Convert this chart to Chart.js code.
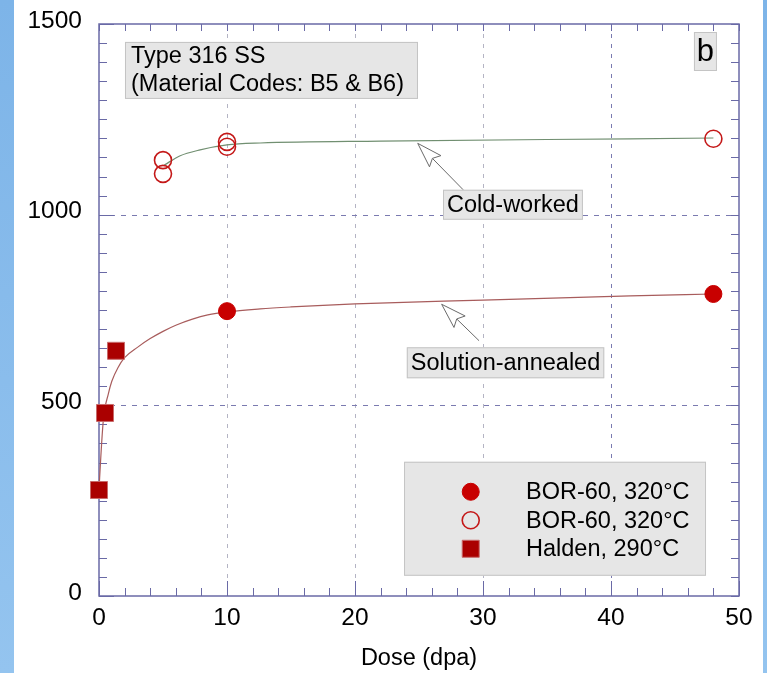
<!DOCTYPE html>
<html><head><meta charset="utf-8">
<script src="https://cdn.jsdelivr.net/npm/chart.js@4.4.0/dist/chart.umd.min.js"></script>
<style>html,body{margin:0;padding:0;background:#fff;overflow:hidden}#wrap{width:767px;height:673px;position:relative}</style>
</head><body><div id="wrap"><canvas id="c" width="767" height="673"></canvas></div>
<script>
// ---- data ----
const xTicks = [0, 10, 20, 30, 40, 50];
const yTicks = [0, 500, 1000, 1500];
const saCircleX = [10, 48];
const saCircleY = [747, 792];
const cwCircleX = [5, 5, 10, 10, 48];
const cwCircleY = [1143, 1107, 1191, 1178, 1199];
const haldenX = [0, 0.47, 1.33];
const haldenY = [278, 480, 643];
const saCurveX = [0, 0.05, 0.34, 0.73, 1.0, 1.5, 2.0, 3.0, 4.0, 5.0, 6.0, 7.3, 8.5, 10, 12.6, 15, 20, 30, 41.5, 48];
const saCurveY = [275, 310, 462, 530, 563, 600, 625, 652, 675, 694, 710, 726, 737, 745, 753, 758, 766, 776, 787, 792];
const cwCurveX = [5.1, 6.3, 7.9, 10, 12.6, 22, 41.5, 48];
const cwCurveY = [1130, 1154, 1170, 1183, 1188, 1193, 1199, 1201];
const legendLabels = ['BOR-60, 320°C', 'BOR-60, 320°C', 'Halden, 290°C'];
const titleLines = ['Type 316 SS', '(Material Codes: B5 & B6)'];
const panelLetter = 'b';
const curveLabels = ['Cold-worked', 'Solution-annealed'];
const xTitle = 'Dose (dpa)';

const pts = (xs, ys) => xs.map((x, i) => ({x, y: ys[i]}));
const FONT = '"Liberation Sans", Arial, sans-serif';
const FS = 23.5;
const TFS = 24.5;
const AX = '#6a6aa6';

const decor = {
  id: 'decor',
  beforeDraw(chart) {
    const c = chart.ctx;
    c.save();
    c.fillStyle = '#ffffff';
    c.fillRect(0, 0, chart.width, chart.height);
    const g = c.createLinearGradient(0, 0, 0, chart.height);
    g.addColorStop(0, '#7db4e8'); g.addColorStop(1, '#94c4ef');
    c.fillStyle = g;
    c.fillRect(0, 0, 14, chart.height);
    c.fillRect(763, 0, 4, chart.height);
    c.restore();
  },
  beforeDatasetsDraw(chart) {
    const c = chart.ctx, a = chart.chartArea, xs = chart.scales.x, ys = chart.scales.y;
    c.save();
    c.lineWidth = 1;
    [10, 20, 30, 40].forEach(v => {
      const px = Math.round(xs.getPixelForValue(v)) + 0.5;
      c.strokeStyle = v === 40 ? '#7a7ab0' : '#b4b4c4';
      c.setLineDash([4, 6]);
      c.beginPath(); c.moveTo(px, a.top); c.lineTo(px, a.bottom); c.stroke();
    });
    [500, 1000].forEach(v => {
      const py = Math.round(ys.getPixelForValue(v)) + 0.5;
      c.strokeStyle = '#7a7ab0';
      c.setLineDash([5, 6]);
      c.beginPath(); c.moveTo(a.left, py); c.lineTo(a.right, py); c.stroke();
    });
    c.setLineDash([]);
    c.strokeStyle = AX;
    for (let v = 0; v <= 50; v += 2) {
      const px = Math.round(xs.getPixelForValue(v)) + 0.5;
      const L = v % 10 === 0 ? 15 : 8;
      c.beginPath(); c.moveTo(px, a.bottom); c.lineTo(px, a.bottom - L);
      c.moveTo(px, a.top); c.lineTo(px, a.top + 7); c.stroke();
    }
    for (let v = 0; v <= 1500; v += 50) {
      const py = Math.round(ys.getPixelForValue(v)) + 0.5;
      const L = v % 500 === 0 ? 15 : 8;
      c.beginPath(); c.moveTo(a.left, py); c.lineTo(a.left + L, py);
      c.moveTo(a.right, py); c.lineTo(a.right - 8, py); c.stroke();
    }
    c.lineWidth = 1.5;
    c.strokeRect(a.left, a.top, a.right - a.left, a.bottom - a.top);
    c.restore();
  },
  afterDatasetsDraw(chart) {
    const c = chart.ctx, xs = chart.scales.x, ys = chart.scales.y;
    const X = v => xs.getPixelForValue(v), Y = v => ys.getPixelForValue(v);
    c.save();
    c.font = FS + 'px ' + FONT;
    c.textBaseline = 'middle';
    const box = (x, y, w, h) => {
      c.fillStyle = '#e6e6e6'; c.fillRect(x, y, w, h);
      c.strokeStyle = '#c4c4c4'; c.lineWidth = 1; c.strokeRect(x + 0.5, y + 0.5, w - 1, h - 1);
    };
    {
      const x = X(2.03), y = Y(1453);
      box(x, y, 293, 57);
      c.fillStyle = '#000'; c.textAlign = 'left';
      c.fillText(titleLines[0], x + 6, y + 15);
      c.fillText(titleLines[1], x + 6, y + 43);
    }
    {
      const x = X(46.48), y = Y(1479);
      box(x, y, 23, 39);
      c.fillStyle = '#000'; c.textAlign = 'center';
      c.font = '31px ' + FONT;
      c.fillText(panelLetter, x + 11.5, y + 20);
      c.font = FS + 'px ' + FONT;
    }
    const arrow = (tx, ty, ex, ey) => {
      const dx = ex - tx, dy = ey - ty, d = Math.hypot(dx, dy);
      const ux = dx / d, uy = dy / d, nx = -uy, ny = ux;
      const L = 25, W = 8, N = 21;
      c.strokeStyle = '#6a6a6a'; c.lineWidth = 1;
      c.beginPath(); c.moveTo(tx + ux * N, ty + uy * N); c.lineTo(ex, ey); c.stroke();
      c.beginPath();
      c.moveTo(tx, ty);
      c.lineTo(tx + ux * L + nx * W, ty + uy * L + ny * W);
      c.lineTo(tx + ux * N, ty + uy * N);
      c.lineTo(tx + ux * L - nx * W, ty + uy * L - ny * W);
      c.closePath();
      c.fillStyle = '#fff'; c.fill(); c.stroke();
    };
    arrow(X(24.9), Y(1187), X(28.46), Y(1065));
    arrow(X(26.77), Y(765), X(29.69), Y(669.5));
    const labelBox = (cx, cy, txt, h) => {
      const w = c.measureText(txt).width + 8;
      const px = X(cx), py = Y(cy);
      box(px - w / 2, py - h / 2, w, h);
      c.fillStyle = '#000'; c.textAlign = 'center';
      c.fillText(txt, px, py + 1);
    };
    labelBox(32.34, 1026, curveLabels[0], 30);
    labelBox(31.76, 611.6, curveLabels[1], 31);
    {
      const x = X(23.83), y = Y(352);
      box(x, y, 302, 114);
      const rows = [30, 58.5, 87];
      const ds = chart.data.datasets;
      [2, 3, 4].forEach((di, i) => {
        const d = ds[di];
        const mx = x + 66.7, my = y + rows[i];
        c.lineWidth = d.borderWidth;
        c.strokeStyle = d.borderColor; c.fillStyle = d.backgroundColor;
        c.beginPath();
        if (d.pointStyle === 'rect') {
          c.rect(mx - 8.5, my - 8.5, 17, 17);
        } else {
          c.arc(mx, my, d.pointRadius, 0, Math.PI * 2);
        }
        c.fill(); c.stroke();
        c.fillStyle = '#000'; c.textAlign = 'left';
        c.fillText(legendLabels[i], x + 122, my + 1);
      });
    }
    c.restore();
  }
};

new Chart(document.getElementById('c'), {
  type: 'scatter',
  data: {
    datasets: [
      {label: 'sa-fit', data: pts(saCurveX, saCurveY), showLine: true, pointRadius: 0, borderColor: '#a85c5c', borderWidth: 1.2, cubicInterpolationMode: 'monotone', order: 3, clip: false},
      {label: 'cw-fit', data: pts(cwCurveX, cwCurveY), showLine: true, pointRadius: 0, borderColor: '#718f71', borderWidth: 1.2, cubicInterpolationMode: 'monotone', order: 3, clip: false},
      {label: legendLabels[0], data: pts(saCircleX, saCircleY), pointStyle: 'circle', pointRadius: 8.5, backgroundColor: '#c80000', borderColor: '#c80000', borderWidth: 1, order: 1, clip: false},
      {label: legendLabels[1], data: pts(cwCircleX, cwCircleY), pointStyle: 'circle', pointRadius: 8.5, backgroundColor: 'rgba(0,0,0,0)', borderColor: '#c41818', borderWidth: 1.6, order: 1, clip: false},
      {label: legendLabels[2], data: pts(haldenX, haldenY), pointStyle: 'rect', pointRadius: 12, backgroundColor: '#aa0000', borderColor: '#c86a6a', borderWidth: 1, order: 1, clip: false}
    ]
  },
  options: {
    responsive: false, animation: false, devicePixelRatio: 1,
    layout: {padding: {top: 24, right: 28, left: 0, bottom: 0}},
    plugins: {legend: {display: false}, tooltip: {enabled: false}},
    scales: {
      x: {
        type: 'linear', min: 0, max: 50,
        afterBuildTicks: s => { s.ticks = xTicks.map(v => ({value: v})); },
        afterFit: s => { s.height = 77; s.paddingLeft = 0; s.paddingRight = 0; },
        ticks: {color: '#000', font: {family: FONT, size: TFS}, padding: 8, maxRotation: 0, autoSkip: false, callback: v => String(v)},
        grid: {display: false, drawTicks: false},
        border: {display: false},
        title: {display: true, text: xTitle, color: '#000', font: {family: FONT, size: FS}, padding: 0}
      },
      y: {
        type: 'linear', min: 0, max: 1500,
        afterBuildTicks: s => { s.ticks = yTicks.map(v => ({value: v})); },
        afterFit: s => { s.width = 99; s.paddingTop = 0; s.paddingBottom = 0; },
        ticks: {color: '#000', font: {family: FONT, size: TFS}, padding: 17, labelOffset: -3, callback: v => String(v)},
        grid: {display: false, drawTicks: false},
        border: {display: false}
      }
    }
  },
  plugins: [decor]
});
</script></body></html>
